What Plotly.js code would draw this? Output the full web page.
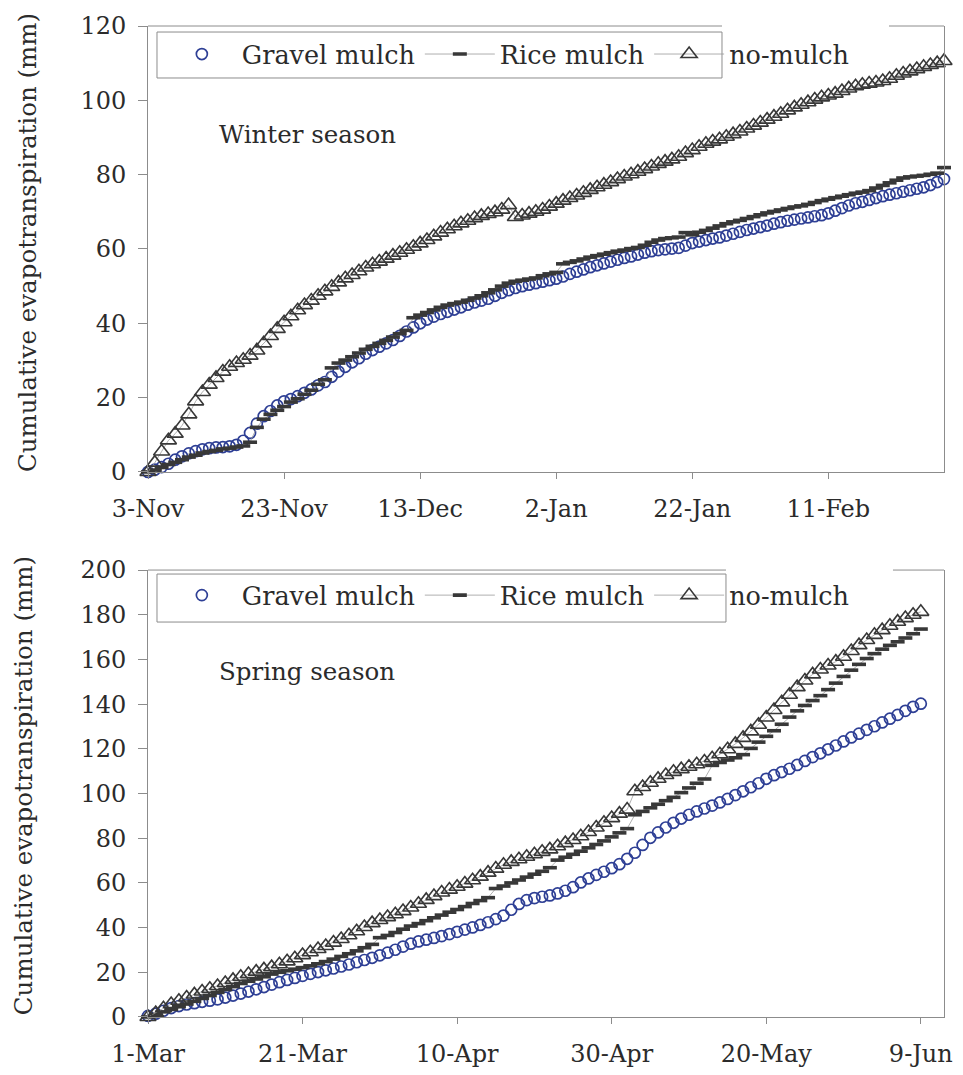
<!DOCTYPE html>
<html>
<head>
<meta charset="utf-8">
<script src="https://cdn.plot.ly/plotly-3.0.1.min.js"></script>
<style>html,body{margin:0;padding:0;background:#fff;}#chart{width:963px;height:1075px;}</style>
</head>
<body>
<div id="chart"></div>
<script>
// ---------- data ----------
const seriesNames = ['Gravel mulch', 'Rice mulch', 'no-mulch'];
const yTitle = 'Cumulative evapotranspiration (mm)';
const seasonLabels = ['Winter season', 'Spring season'];

const winterStart = '2010-11-03';
const winterEnd = '2011-02-28';
const springStart = '2011-03-01';
const springEnd = '2011-06-12';

const winterTickVals = ['2010-11-03', '2010-11-23', '2010-12-13', '2011-01-02', '2011-01-22', '2011-02-11'];
const winterTickText = ['3-Nov', '23-Nov', '13-Dec', '2-Jan', '22-Jan', '11-Feb'];
const springTickVals = ['2011-03-01', '2011-03-21', '2011-04-10', '2011-04-30', '2011-05-20', '2011-06-09'];
const springTickText = ['1-Mar', '21-Mar', '10-Apr', '30-Apr', '20-May', '9-Jun'];

// winter: daily values from 3-Nov to 28-Feb
const winterGravel = [
  0, 0.6, 1.3, 2.2, 3.3, 4.2, 5.0, 5.6, 6.1, 6.4,
  6.6, 6.7, 6.9, 7.3, 8.4, 10.5, 13.0, 15.0, 16.4, 17.9,
  19.0, 19.6, 20.4, 21.3, 22.2, 23.3, 24.2, 25.6, 27.0, 28.3,
  29.5, 30.6, 31.8, 32.8, 33.7, 34.6, 35.5, 36.6, 37.8, 38.9,
  40.0, 41.0, 41.8, 42.5, 43.1, 43.7, 44.3, 45.0, 45.6, 46.1,
  46.6, 47.4, 48.2, 48.9, 49.5, 50.0, 50.4, 50.8, 51.2, 51.6,
  52.0, 52.6, 53.3, 53.9, 54.5, 55.1, 55.6, 56.1, 56.6, 57.1,
  57.6, 58.0, 58.5, 59.0, 59.4, 59.7, 59.9, 60.1, 60.3, 60.9,
  61.6, 62.0, 62.4, 62.8, 63.1, 63.6, 64.1, 64.6, 65.1, 65.5,
  65.9, 66.3, 66.8, 67.2, 67.6, 67.9, 68.2, 68.5, 68.8, 69.1,
  69.6, 70.3, 71.0, 71.7, 72.3, 72.7, 73.2, 73.7, 74.2, 74.6,
  75.0, 75.4, 75.8, 76.2, 76.6, 77.2, 78.0, 78.8
];
const winterRice = [
  0, 0.5, 1.2, 2.0, 2.6, 3.3, 4.0, 4.5, 5.1, 5.5,
  5.8, 6.2, 6.4, 6.7, 7.0, 8.0, 12.0, 14.2, 15.5, 16.6,
  17.6, 18.8, 19.7, 20.9, 22.0, 23.6, 24.8, 28.0, 29.3, 30.1,
  31.0, 32.0, 33.0, 33.8, 34.6, 35.4, 36.3, 37.2, 38.1, 41.5,
  42.2, 42.9, 43.6, 44.3, 44.9, 45.3, 45.7, 46.2, 46.8, 47.4,
  48.2, 49.0, 50.0, 50.8, 51.3, 51.6, 51.9, 52.2, 52.8, 53.3,
  53.7, 56.0, 56.4, 56.8, 57.3, 57.8, 58.2, 58.6, 59.0, 59.4,
  59.7, 60.1, 60.4, 61.0, 61.8, 62.4, 62.8, 63.0, 63.2, 64.4,
  63.8, 64.5, 65.0, 65.6, 66.2, 66.8, 67.3, 67.7, 68.2, 68.7,
  69.2, 69.7, 70.1, 70.5, 70.9, 71.3, 71.6, 72.0, 72.5, 73.0,
  73.4, 73.8, 74.2, 74.6, 75.0, 75.3, 75.7, 76.4, 77.1, 77.8,
  78.5, 79.1, 79.4, 79.6, 79.8, 80.1, 80.4, 81.9
];
const winterNoMulch = [
  0, 2.5, 5.5, 8.5, 10.3, 12.5, 15.5, 19.0, 21.5, 23.5,
  25.3, 27.0, 28.3, 29.3, 30.2, 31.3, 32.7, 34.6, 36.6, 38.5,
  40.3, 41.9, 43.5, 44.9, 46.1, 47.4, 48.6, 49.8, 51.0, 52.1,
  53.0, 54.0, 55.0, 55.9, 56.6, 57.4, 58.2, 59.0, 59.8, 60.6,
  61.5, 62.4, 63.4, 64.4, 65.3, 66.1, 66.9, 67.6, 68.3, 68.9,
  69.4, 69.9, 70.6, 71.8, 68.6, 69.0, 69.5, 70.0, 70.6, 71.4,
  72.2, 73.0, 73.7, 74.4, 75.1, 75.9, 76.6, 77.3, 78.0, 78.8,
  79.5, 80.1, 80.8, 81.5, 82.2, 82.9, 83.5, 84.1, 84.8, 85.8,
  86.6, 87.5, 88.3, 88.9, 89.5, 90.2, 90.9, 91.6, 92.4, 93.2,
  94.0, 94.8, 95.6, 96.4, 97.3, 98.1, 98.8, 99.5, 100.2, 100.8,
  101.3, 101.8, 102.5, 103.2, 103.8, 104.2, 104.5, 104.8, 105.2, 105.8,
  106.6, 107.2, 107.8, 108.4, 109.0, 109.5, 110.0, 110.6
];

// spring: daily values from 1-Mar to 9-Jun
const springGravel = [
  0.5, 1.5, 2.8, 4.0, 4.9, 5.6, 6.2, 6.8, 7.3, 7.9,
  8.7, 9.6, 10.5, 11.4, 12.4, 13.4, 14.5, 15.6, 16.6, 17.5,
  18.4, 19.3, 20.1, 20.9, 21.7, 22.6, 23.5, 24.5, 25.5, 26.5,
  27.6, 28.8, 30.1, 31.5, 32.8, 33.8, 34.6, 35.4, 36.2, 37.1,
  38.1, 39.1, 40.1, 41.2, 42.4, 43.8, 45.4, 48.0, 50.6, 52.3,
  53.2, 53.8, 54.4, 55.3, 56.5, 58.1, 60.2, 62.0, 63.6, 65.0,
  66.6, 68.4, 70.8, 73.5, 77.0, 80.2, 82.6, 84.8, 86.9, 88.8,
  90.5, 92.0, 93.3, 94.6, 96.0, 97.6, 99.3, 101.0, 102.8, 104.6,
  106.6, 108.2, 109.6, 111.1, 112.8, 114.6, 116.3, 118.0, 119.8, 121.5,
  123.3, 125.1, 126.8, 128.5, 130.1, 131.8, 133.5, 135.2, 137.0, 138.8,
  140.2
];
const springRice = [
  0, 1.2, 2.3, 3.4, 4.6, 5.8, 7.0, 8.3, 9.6, 11.0,
  12.3, 13.6, 15.0, 16.0, 17.0, 18.0, 19.2, 20.0, 20.7, 21.4,
  22.1, 22.9, 23.8, 24.8, 25.9, 27.1, 28.3, 29.6, 31.0, 32.5,
  35.5, 36.5, 37.8, 39.3, 40.7, 41.8, 43.1, 44.4, 45.6, 46.9,
  48.1, 49.4, 50.8, 52.1, 53.4, 57.5, 58.6, 60.0, 61.3, 62.6,
  63.9, 65.2, 66.8, 70.2, 71.5, 72.8, 74.2, 75.7, 77.2, 78.8,
  80.6, 82.4, 84.3, 90.5, 92.0, 93.6, 95.2, 96.8, 98.3, 100.4,
  102.5, 104.6, 106.5, 112.6, 113.9, 115.0, 116.0, 117.4, 120.2, 123.0,
  125.6, 128.1, 131.0, 134.2, 137.0, 139.4, 141.6, 143.8, 146.5, 149.4,
  152.4, 155.2, 157.8, 160.4, 162.6, 164.6, 166.3, 167.9, 169.6, 171.5,
  173.6
];
const springNoMulch = [
  0, 1.8, 3.9, 5.8, 7.3, 8.7, 10.1, 11.4, 12.6, 13.9,
  15.2, 16.6, 18.0, 19.2, 20.3, 21.3, 22.3, 23.6, 24.9, 26.3,
  27.7, 29.0, 30.4, 31.8, 33.3, 34.9, 36.6, 38.4, 40.3, 42.0,
  43.4, 44.7, 46.0, 47.4, 49.0, 50.7, 52.4, 54.1, 55.7, 57.0,
  58.3, 59.7, 61.2, 62.8, 64.6, 66.4, 68.1, 69.4, 70.6, 71.7,
  72.8, 73.9, 75.0, 76.4, 77.8, 79.2, 80.9, 82.8, 84.8, 86.9,
  89.0, 91.0, 92.8, 101.0, 102.9, 104.8, 106.6, 108.3, 109.7, 110.9,
  112.0, 113.1, 114.3, 115.8, 117.6, 119.8, 122.2, 124.9, 127.8, 130.8,
  134.0, 137.4, 140.8, 144.2, 147.6, 150.6, 153.3, 155.5, 157.3, 159.0,
  161.2, 163.8, 166.4, 168.7, 171.0, 173.1, 175.1, 176.9, 178.5, 180.0,
  181.3
];

// ---------- helpers ----------
function dailyDates(start, n) {
  const t0 = Date.parse(start + 'T00:00:00Z');
  const out = [];
  for (let i = 0; i < n; i++) out.push(new Date(t0 + i * 86400000).toISOString().slice(0, 10));
  return out;
}

const FONT = 'DejaVu Serif';
const TXT = '#2b2b2b';
const FRAME = '#8c8c8c';
const BLUE = '#2e3f95';
const DARK = '#383838';

function makeTraces(dates, gravel, rice, nomulch, xa, ya, leg) {
  return [
    { x: dates, y: gravel, name: seriesNames[0], xaxis: xa, yaxis: ya, legend: leg,
      type: 'scatter', mode: 'markers', cliponaxis: false,
      marker: { symbol: 'circle-open', size: 11, color: BLUE, line: { width: 1.7, color: BLUE } } },
    { x: dates, y: rice, name: seriesNames[1], xaxis: xa, yaxis: ya, legend: leg,
      type: 'scatter', mode: 'lines+markers', cliponaxis: false,
      line: { color: '#9a9a9a', width: 0.8 },
      marker: { symbol: 'line-ew', size: 10, color: DARK, line: { width: 3.6, color: DARK } } },
    { x: dates, y: nomulch, name: seriesNames[2], xaxis: xa, yaxis: ya, legend: leg,
      type: 'scatter', mode: 'lines+markers', cliponaxis: false,
      line: { color: '#9a9a9a', width: 0.8 },
      marker: { symbol: 'triangle-up-open', size: 14, color: DARK, line: { width: 1.6, color: DARK } } }
  ];
}

const wDates = dailyDates(winterStart, winterGravel.length);
const sDates = dailyDates(springStart, springGravel.length);

const data = []
  .concat(makeTraces(wDates, winterGravel, winterRice, winterNoMulch, 'x', 'y', 'legend'))
  .concat(makeTraces(sDates, springGravel, springRice, springNoMulch, 'x2', 'y2', 'legend2'));

const tickFont = { family: FONT, size: 24, color: TXT };

function xAxis(anchor, range, vals, text) {
  return {
    anchor: anchor, domain: [0, 1], type: 'date', range: range,
    tickmode: 'array', tickvals: vals, ticktext: text,
    ticks: 'outside', ticklen: 6, tickwidth: 1, tickcolor: FRAME,
    showline: true, linecolor: FRAME, linewidth: 1, mirror: false,
    showgrid: false, zeroline: false, tickfont: tickFont, ticklabelstandoff: 9
  };
}
function yAxis(anchor, domain, range) {
  return {
    anchor: anchor, domain: domain, range: range, dtick: 20, tick0: 0,
    ticks: 'outside', ticklen: 9, tickwidth: 1, tickcolor: FRAME,
    showline: true, linecolor: FRAME, linewidth: 1, mirror: true,
    showgrid: false, zeroline: false, tickfont: tickFont, ticklabelstandoff: 7
  };
}

const legendBase = {
  orientation: 'h', xanchor: 'left', yanchor: 'top', bgcolor: 'rgba(0,0,0,0)',
  borderwidth: 0, font: { family: FONT, size: 25.5, color: TXT }, itemwidth: 70,
  traceorder: 'normal'
};

const frameLine = { type: 'line', line: { color: FRAME, width: 1 } };

const layout = {
  width: 963, height: 1075,
  margin: { l: 148, r: 19, t: 26, b: 58 },
  paper_bgcolor: '#fff', plot_bgcolor: '#fff',
  showlegend: true,
  xaxis: xAxis('y', [winterStart, winterEnd], winterTickVals, winterTickText),
  yaxis: yAxis('x', [0.55, 1], [0, 120]),
  xaxis2: xAxis('y2', [springStart, springEnd], springTickVals, springTickText),
  yaxis2: yAxis('x2', [0, 0.451], [0, 200]),
  legend: Object.assign({}, legendBase, { x: 0.0174, y: 0.995 }),
  legend2: Object.assign({}, legendBase, { x: 0.0174, y: 0.449 }),
  shapes: [
    // legend boxes
    { type: 'rect', xref: 'x domain', yref: 'y domain', x0: 0.0113, x1: 0.7211, y0: 0.8834, y1: 0.9865,
      line: { color: FRAME, width: 1 }, fillcolor: 'rgba(0,0,0,0)' },
    { type: 'rect', xref: 'x2 domain', yref: 'y2 domain', x0: 0.0113, x1: 0.7261, y0: 0.8837, y1: 0.9911,
      line: { color: FRAME, width: 1 }, fillcolor: 'rgba(0,0,0,0)' },
    // top borders of plot frames (broken where the legend text sits)
    Object.assign({ xref: 'x domain', yref: 'y domain', x0: 0, x1: 0.7211, y0: 1, y1: 1 }, frameLine),
    Object.assign({ xref: 'x domain', yref: 'y domain', x0: 0.9309, x1: 1, y0: 1, y1: 1 }, frameLine),
    Object.assign({ xref: 'x2 domain', yref: 'y2 domain', x0: 0, x1: 0.7261, y0: 1, y1: 1 }, frameLine),
    Object.assign({ xref: 'x2 domain', yref: 'y2 domain', x0: 0.9359, x1: 1, y0: 1, y1: 1 }, frameLine)
  ],
  annotations: [
    { text: yTitle, xref: 'paper', yref: 'paper', x: -0.152, y: 0.781, textangle: -90,
      showarrow: false, xanchor: 'center', yanchor: 'middle', font: { family: FONT, size: 24.5, color: TXT } },
    { text: yTitle, xref: 'paper', yref: 'paper', x: -0.157, y: 0.233, textangle: -90,
      showarrow: false, xanchor: 'center', yanchor: 'middle', font: { family: FONT, size: 24.5, color: TXT } },
    { text: seasonLabels[0], xref: 'paper', yref: 'paper', x: 0.0867, y: 0.891,
      showarrow: false, xanchor: 'left', yanchor: 'middle', font: { family: FONT, size: 24.5, color: TXT } },
    { text: seasonLabels[1], xref: 'paper', yref: 'paper', x: 0.0867, y: 0.349,
      showarrow: false, xanchor: 'left', yanchor: 'middle', font: { family: FONT, size: 24.5, color: TXT } }
  ]
};

Plotly.newPlot('chart', data, layout, { staticPlot: true, displayModeBar: false });
</script>
</body>
</html>
